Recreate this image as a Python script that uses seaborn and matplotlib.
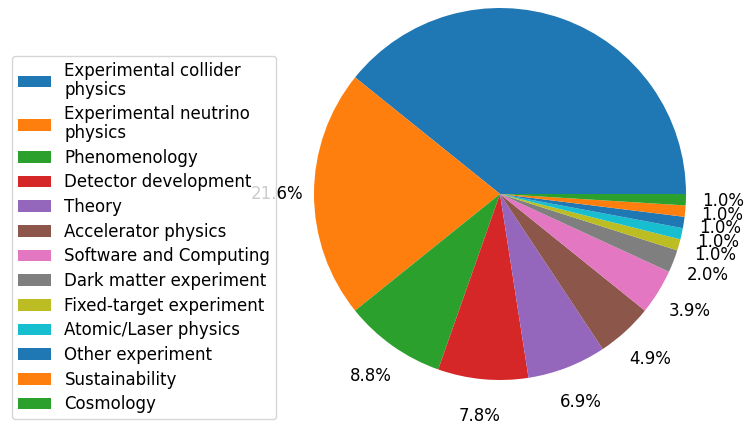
import matplotlib
matplotlib.use("Agg")
import matplotlib.pyplot as plt
import seaborn as sns

# Number of responses per field
fields = [
    "Experimental collider\nphysics",
    "Experimental neutrino\nphysics",
    "Phenomenology",
    "Detector development",
    "Theory",
    "Accelerator physics",
    "Software and Computing",
    "Dark matter experiment",
    "Fixed-target experiment",
    "Atomic/Laser physics",
    "Other experiment",
    "Sustainability",
    "Cosmology",
]
counts = [40, 22, 9, 8, 7, 5, 4, 2, 1, 1, 1, 1, 1]

colors = sns.color_palette("tab10", len(counts))

fig = plt.figure(figsize=(7.44, 4.24), dpi=100)
# square axes, pie centre at (500, 194) px, radius ~186 px
W, H = 744, 424
size = 2.5 * 186
ax = fig.add_axes([(500 - size / 2) / W, (H - 194 - size / 2) / H, size / W, size / H])

wedges, texts, autotexts = ax.pie(
    counts,
    colors=colors,
    autopct="%1.1f%%",
    pctdistance=1.2,
    startangle=0,
    textprops={"fontsize": 12},
)
ax.set_aspect("equal")

leg = ax.legend(
    wedges,
    fields,
    loc="upper left",
    bbox_to_anchor=(12 / W, 1 - 56 / H),
    bbox_transform=fig.transFigure,
    borderaxespad=0,
    fontsize=12,
    labelspacing=0.4,
    borderpad=0.35,
)
for t in leg.get_texts():
    t.set_linespacing(1.05)

plt.savefig("out.png", dpi=100)
